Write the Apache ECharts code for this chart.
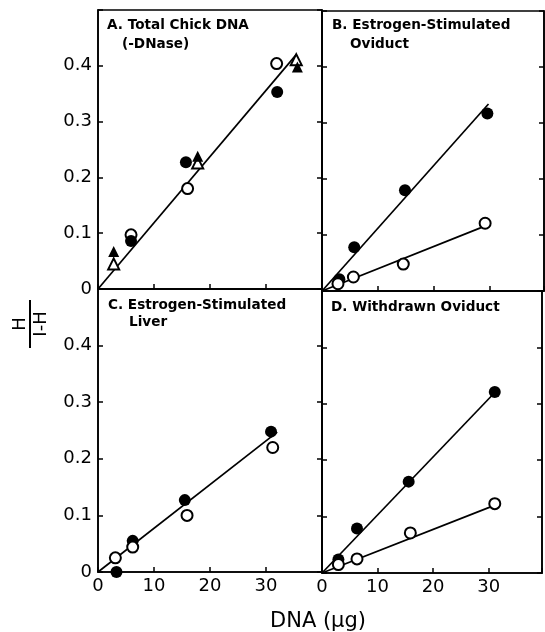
<!DOCTYPE html>
<html>
<head>
<meta charset="utf-8">
<script src="https://cdn.jsdelivr.net/npm/echarts@6/dist/echarts.min.js"></script>
<style>
html,body{margin:0;padding:0;background:#fff;}
#chart{width:545px;height:632px;}
</style>
</head>
<body>
<div id="chart"></div>
<script>
// ---- data (DNA µg, H/(1-H)) ----
var xTicks = [0, 10, 20, 30];
var yTicks = [0, 0.1, 0.2, 0.3, 0.4];

// Panel A: Total Chick DNA (-DNase)
var aOpenCircle = [[5.9, 0.097], [16.0, 0.180], [31.9, 0.404]];
var aFilledCircle = [[5.9, 0.086], [15.7, 0.227], [32.0, 0.353]];
var aOpenTri = [[2.8, 0.045], [17.8, 0.226], [35.4, 0.411]];
var aFilledTri = [[2.8, 0.067], [17.8, 0.238], [35.6, 0.398]];
var aFit = [[0, 0], [35.4, 0.420]];

// Panel B: Estrogen-Stimulated Oviduct
var bFilled = [[3.1, 0.021], [5.75, 0.078], [14.8, 0.180], [29.5, 0.317]];
var bOpen = [[2.85, 0.013], [5.6, 0.025], [14.5, 0.048], [29.1, 0.121]];
var bFitFilled = [[0, 0], [29.7, 0.334]];
var bFitOpen = [[0, 0], [28.6, 0.114]];

// Panel C: Estrogen-Stimulated Liver
var cFilled = [[3.3, 0.0], [6.2, 0.055], [15.5, 0.127], [30.9, 0.248]];
var cOpen = [[3.1, 0.025], [6.2, 0.044], [15.9, 0.100], [31.2, 0.220]];
var cFit = [[0, 0], [32.0, 0.247]];

// Panel D: Withdrawn Oviduct
var dFilled = [[2.95, 0.024], [6.3, 0.079], [15.6, 0.162], [31.1, 0.321]];
var dOpen = [[2.95, 0.015], [6.3, 0.025], [15.9, 0.071], [31.1, 0.123]];
var dFitFilled = [[0, 0], [31.1, 0.320]];
var dFitOpen = [[0, 0], [30.8, 0.119]];

var panelTitles = [
  ['A. Total Chick DNA', '(-DNase)'],
  ['B. Estrogen-Stimulated', 'Oviduct'],
  ['C. Estrogen-Stimulated', 'Liver'],
  ['D. Withdrawn Oviduct', '']
];
var xTitle = 'DNA (\u03bcg)';

// ---- layout ----
var chart = echarts.init(document.getElementById('chart'));
var grids = [
  {left: 98, top: 10, width: 224, height: 279},
  {left: 322, top: 11, width: 222, height: 280},
  {left: 98, top: 289, width: 224, height: 283},
  {left: 322, top: 291, width: 222, height: 282}
];
var xMax = [40, 39.6, 40, 39.6];
var font = 'DejaVu Sans';

var xAxes = [], yAxes = [];
grids.forEach(function (g, i) {
  g.show = true; g.borderColor = '#000'; g.borderWidth = 1.6; g.containLabel = false;
  var bottom = i >= 2, left = (i % 2 === 0);
  xAxes.push({
    type: 'value', gridIndex: i, min: 0, max: xMax[i], interval: 10,
    axisLine: {show: true, onZero: false, lineStyle: {color: '#000', width: 1.6}},
    axisTick: {show: true, inside: true, length: 5, lineStyle: {color: '#000', width: 1.5}},
    splitLine: {show: false},
    axisLabel: {show: bottom, color: '#000', fontFamily: font, fontSize: 18, margin: 5,
      formatter: function (v) { return xTicks.indexOf(v) >= 0 ? String(v) : ''; }}
  });
  [0, 1].forEach(function (side) {
    yAxes.push({
      type: 'value', gridIndex: i, min: 0, max: 0.5, interval: 0.1,
      position: side === 0 ? 'left' : 'right',
      axisLine: {show: true, onZero: false, lineStyle: {color: '#000', width: 1.6}},
      axisTick: {show: true, inside: true, length: 5, lineStyle: {color: '#000', width: 1.5}},
      splitLine: {show: false},
      axisLabel: {show: left && side === 0, color: '#000', fontFamily: font, fontSize: 18, margin: 6,
        formatter: function (v) {
          var r = Math.round(v * 10) / 10;
          if (yTicks.indexOf(r) < 0) return '';
          return r === 0 ? '0' : r.toFixed(1);
        }}
    });
  });
});

function fitLine(data, i) {
  return {type: 'line', xAxisIndex: i, yAxisIndex: i * 2, data: data, symbol: 'none',
    lineStyle: {color: '#000', width: 1.7}, z: 2, silent: true, animation: false};
}
function pts(data, i, kind) {
  var filled = kind.indexOf('filled') === 0;
  var tri = kind.indexOf('Tri') > 0;
  return {type: 'scatter', xAxisIndex: i, yAxisIndex: i * 2, data: data,
    symbol: tri ? 'triangle' : 'circle', symbolSize: tri ? 11 : (filled ? 12 : 11),
    itemStyle: filled ? {color: '#000', opacity: 1} : {color: '#fff', borderColor: '#000', borderWidth: 2, opacity: 1},
    z: 3, animation: false};
}

var series = [
  fitLine(aFit, 0), pts(aOpenCircle, 0, 'openCircle'), pts(aFilledCircle, 0, 'filledCircle'),
  pts(aOpenTri, 0, 'openTri'), pts(aFilledTri, 0, 'filledTri'),
  fitLine(bFitFilled, 1), fitLine(bFitOpen, 1), pts(bFilled, 1, 'filledCircle'), pts(bOpen, 1, 'openCircle'),
  fitLine(cFit, 2), pts(cFilled, 2, 'filledCircle'), pts(cOpen, 2, 'openCircle'),
  fitLine(dFitFilled, 3), fitLine(dFitOpen, 3), pts(dFilled, 3, 'filledCircle'), pts(dOpen, 3, 'openCircle')
];

var titlePos = [
  [[107, 18], [122, 37]],
  [[332, 18], [350, 37]],
  [[108, 298], [129, 315]],
  [[331, 300], [0, 0]]
];
var titles = [];
panelTitles.forEach(function (t, i) {
  t.forEach(function (s, j) {
    if (!s) return;
    titles.push({text: s, left: titlePos[i][j][0], top: titlePos[i][j][1], padding: 0,
      textStyle: {fontFamily: font, fontWeight: 'bold', fontSize: 13.6, color: '#000'}});
  });
});
titles.push({text: xTitle, left: 270, top: 611, padding: 0,
  textStyle: {fontFamily: font, fontWeight: 'normal', fontSize: 21, color: '#000'}});

var option = {
  animation: false,
  backgroundColor: '#fff',
  title: titles,
  grid: grids,
  xAxis: xAxes,
  yAxis: yAxes,
  series: series,
  graphic: [
    {type: 'text', x: 20, y: 324, rotation: Math.PI / 2,
      style: {text: 'H', font: '18px DejaVu Sans', fill: '#000', textAlign: 'center', textVerticalAlign: 'middle'}},
    {type: 'line', shape: {x1: 30, y1: 300, x2: 30, y2: 348}, style: {stroke: '#000', lineWidth: 2}},
    {type: 'text', x: 41, y: 324, rotation: Math.PI / 2,
      style: {text: 'I-H', font: '18px DejaVu Sans', fill: '#000', textAlign: 'center', textVerticalAlign: 'middle'}}
  ]
};
chart.setOption(option);
</script>
</body>
</html>
